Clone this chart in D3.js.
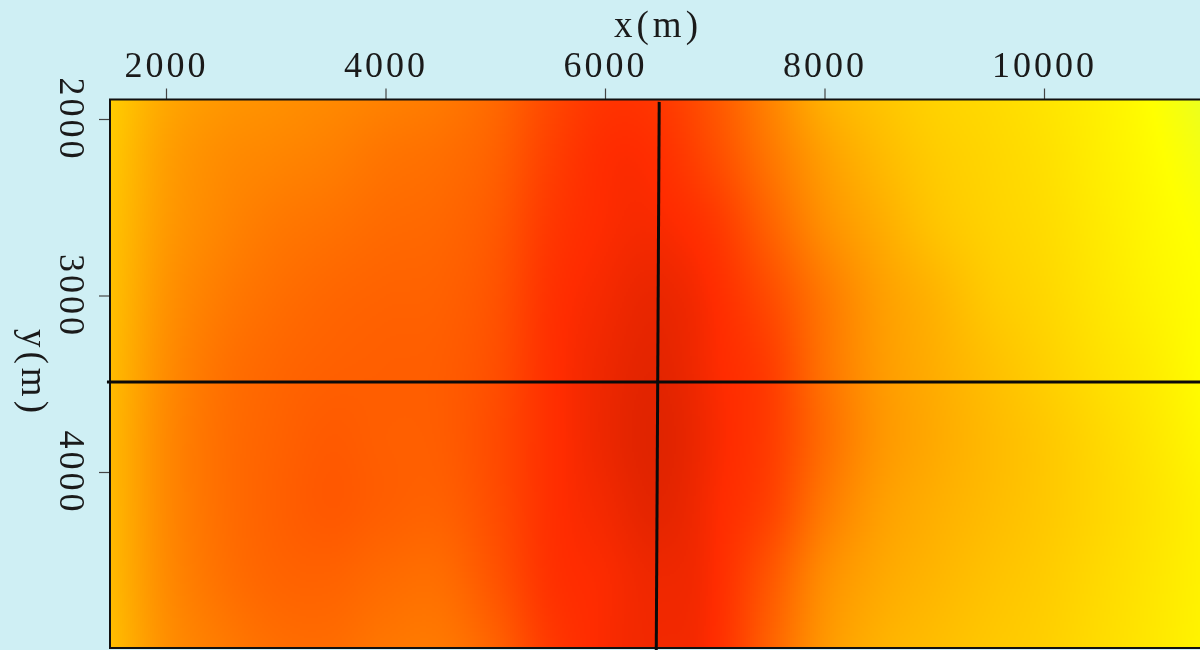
<!DOCTYPE html>
<html>
<head>
<meta charset="utf-8">
<script src="https://cdnjs.cloudflare.com/ajax/libs/d3/7.8.5/d3.min.js"></script>
<style>
html,body{margin:0;padding:0;background:#cfeff4;overflow:hidden}
#wrap{position:relative;width:1200px;height:650px}
canvas,svg{position:absolute;left:0;top:0}
text{font-family:"Liberation Serif",serif;fill:#1a1a1a}
</style>
</head>
<body>
<div id="wrap"><canvas id="heat" width="1200" height="650"></canvas><svg id="chart" width="1200" height="650"></svg></div>
<script>
const xGrid = [1500,2000,2500,3000,3500,4000,4500,5000,5500,6000,6500,7000,7500,8000,8500,9000,9500,10000,10500,11000,11500];
const yGrid = [1900,2200,2600,3000,3400,3800,4200,4600,5000];
const row1900 = [205,168,152,145,138,130,122,105,74,54,58,88,132,176,196,210,218,228,240,256,280];
const row2200 = [200,160,142,135,128,118,112,98,66,47,50,78,120,160,186,204,214,224,238,252,270];
const row2600 = [195,155,135,122,115,108,104,90,58,45,43,58,100,144,172,196,210,220,234,248,260];
const row3000 = [192,148,125,112,104,100,98,84,52,41,36,47,78,122,158,180,202,215,230,244,256];
const row3400 = [188,142,116,104,98,96,94,80,50,38,33,44,64,116,154,174,192,208,224,238,256];
const row3800 = [185,138,112,100,92,96,94,76,50,37,31,42,62,110,150,170,186,200,216,232,250];
const row4200 = [185,138,112,98,90,96,98,78,50,40,33,44,68,122,158,175,188,200,214,228,244];
const row4600 = [186,140,115,102,100,108,110,85,52,44,38,46,88,142,168,182,194,204,217,230,244];
const row5000 = [190,145,125,112,110,120,122,100,60,44,40,48,100,152,178,190,200,208,220,232,246];
const field = [row1900,row2200,row2600,row3000,row3400,row3800,row4200,row4600,row5000];
const xTicks = [2000,4000,6000,8000,10000];
const yTicks = [2000,3000,4000];
const crossH = [[1462,3490],[11500,3490]];
const crossV = [[6494,1903],[6467,5010]];

const plot = {l:110,t:99.5,r:1200,b:648};
const x = d3.scaleLinear().domain([2000,10000]).range([166,1044]);
const y = d3.scaleLinear().domain([2000,4000]).range([119,472]);
const color = d3.scaleLinear().domain([30,46,255,290]).range(["#de2300","#ff2c00","#ffff00","#e0ff30"]).clamp(true);

function cr(p0,p1,p2,p3,t){
  return 0.5*((2*p1)+(-p0+p2)*t+(2*p0-5*p1+4*p2-p3)*t*t+(-p0+3*p1-3*p2+p3)*t*t*t);
}
function locate(arr,v){
  const i = Math.max(0,Math.min(arr.length-2,d3.bisectRight(arr,v)-1));
  return [i,(v-arr[i])/(arr[i+1]-arr[i])];
}
// end neighbours are extended straight so the gradient keeps its slope at the frame
function nb(a,k){
  const n=a.length;
  if(k<0) return 2*a[0]-a[1];
  if(k>=n) return 2*a[n-1]-a[n-2];
  return a[k];
}
function sample(vx,vy){
  const [i,tx]=locate(xGrid,vx), [j,ty]=locate(yGrid,vy);
  const c=[];
  for(let b=0;b<4;b++){
    const k=j-1+b;
    const at=q=>nb(field.map(r=>r[q]),k);
    c.push(cr(nb(xGrid.map((_,q)=>at(q)),i-1),at(i),at(i+1),nb(xGrid.map((_,q)=>at(q)),i+2),tx));
  }
  return cr(c[0],c[1],c[2],c[3],ty);
}
const ctx=document.getElementById("heat").getContext("2d");
const left=Math.round(plot.l), top0=Math.round(plot.t), w=plot.r-left, h=plot.b-top0;
// values are evaluated on a 2px lattice and written out block by block
const img=ctx.createImageData(w,h);
for(let py=0;py<h;py+=2){
  const vy=y.invert(top0+py+1);
  for(let px=0;px<w;px+=2){
    const c=d3.rgb(color(sample(x.invert(left+px+1),vy)));
    for(let a=0;a<2&&py+a<h;a++)for(let b=0;b<2&&px+b<w;b++){
      const k=((py+a)*w+px+b)*4;
      img.data[k]=c.r;img.data[k+1]=c.g;img.data[k+2]=c.b;img.data[k+3]=255;
    }
  }
}
ctx.putImageData(img,left,top0);

const svg=d3.select("#chart");
const ax=svg.append("g").attr("transform",`translate(0,${plot.t})`)
  .call(d3.axisTop(x).tickValues(xTicks).tickSize(11).tickFormat(d3.format("d")));
ax.select(".domain").remove();
ax.selectAll(".tick line").attr("stroke","#444").attr("stroke-width",1.2);
ax.selectAll(".tick text").attr("y",-23).attr("dy",0)
  .style("font-family",'"Liberation Serif",serif').style("font-size","36px").style("letter-spacing","3px").attr("fill","#1a1a1a");

const ay=svg.append("g").attr("transform",`translate(${plot.l},0)`)
  .call(d3.axisLeft(y).tickValues(yTicks).tickSize(11).tickFormat(d3.format("d")));
ay.select(".domain").remove();
ay.selectAll(".tick line").attr("stroke","#444").attr("stroke-width",1.2);
ay.selectAll(".tick text")
  .attr("x",0).attr("y",0).attr("dy",0)
  .attr("text-anchor","middle")
  .attr("transform","translate(-50,0) rotate(90)")
  .style("font-family",'"Liberation Serif",serif').style("font-size","36px").style("letter-spacing","3px").attr("fill","#1a1a1a");

svg.append("text").attr("x",658).attr("y",37).attr("text-anchor","middle")
  .style("font-size","37px").style("letter-spacing","4px").text("x(m)");
svg.append("text").attr("text-anchor","middle")
  .attr("transform","translate(22,373) rotate(90)")
  .style("font-size","37px").style("letter-spacing","4px").text("y(m)");

svg.append("path").attr("fill","none").attr("stroke","#111").attr("stroke-width",2)
  .attr("d",`M${plot.r+5},${plot.t}H${plot.l}V${plot.b}H${plot.r+5}`);

const line=d3.line().x(d=>x(d[0])).y(d=>y(d[1]));
[crossH,crossV].forEach(d=>svg.append("path").datum(d).attr("d",line)
  .attr("fill","none").attr("stroke","#0a0a0a").attr("stroke-width",3));
</script>
</body>
</html>
